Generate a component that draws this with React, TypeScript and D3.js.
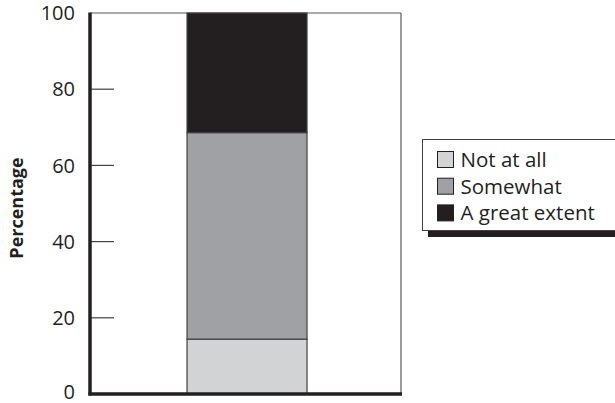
import React from "react";
import * as d3 from "d3";

const categories = ["All"];
const seriesNames = ["Not at all", "Somewhat", "A great extent"];
const notAtAll = [14.4];
const somewhat = [54.2];
const greatExtent = [31.4];
const yTicks = [0, 20, 40, 60, 80, 100];
const colors = ["#d1d3d4", "#a0a1a4", "#231f20"];

export default function App() {
  const W = 615, H = 403;
  const left = 90, right = 401, top = 13, bottom = 394;
  const y = d3.scaleLinear().domain([0, 100]).range([bottom, top]);
  const x = d3.scaleBand().domain(categories).range([left, right]).paddingInner(0).paddingOuter(0.796).align(0.508);
  const rows = categories.map((c, i) => ({ cat: c, "Not at all": notAtAll[i], "Somewhat": somewhat[i], "A great extent": greatExtent[i] }));
  const stack = d3.stack<any>().keys(seriesNames)(rows);
  const font = "'Open Sans', 'Noto Sans', sans-serif";
  return (
    <svg width={W} height={H} style={{ position: "absolute", left: 0, top: 0, background: "#fff" }}>
      {/* frame */}
      <line x1={left} x2={right} y1={top} y2={top} stroke="#58595b" strokeWidth={1.2} />
      <line x1={right} x2={right} y1={top} y2={bottom} stroke="#58595b" strokeWidth={1.2} />
      {/* bars */}
      {stack.map((s, si) =>
        s.map((d, di) => (
          <rect key={si + "-" + di} x={x(categories[di])!} width={x.bandwidth()} y={y(d[1])} height={y(d[0]) - y(d[1])}
            fill={colors[si]} stroke="#414042" strokeWidth={1.2} />
        ))
      )}
      {/* ticks */}
      {yTicks.filter(t => t > 0 && t < 100).map(t => (
        <line key={t} x1={left} x2={left + 24} y1={y(t)} y2={y(t)} stroke="#414042" strokeWidth={1.2} />
      ))}
      {yTicks.map(t => (
        <text key={"l" + t} x={75} y={Math.min(y(t), 392)} dy="0.36em" textAnchor="end" fontSize={20} fontFamily={font} fill="#231f20">{t}</text>
      ))}
      {/* axes */}
      <line x1={left} x2={left} y1={top - 0.5} y2={bottom + 1.5} stroke="#231f20" strokeWidth={3.5} />
      <line x1={left - 1.5} x2={right + 1} y1={bottom} y2={bottom} stroke="#231f20" strokeWidth={3.5} />
      <text transform={`translate(22.5,208) rotate(-90)`} textAnchor="middle" fontSize={18} fontWeight="bold" fontFamily={font} fill="#231f20">Percentage</text>
      {/* legend */}
      <rect x={428} y={146} width={200} height={91} fill="#231f20" />
      <rect x={422.5} y={139.5} width={200} height={91} fill="#fff" stroke="#414042" strokeWidth={1} />
      {seriesNames.map((n, i) => {
        const yc = 159.5 + i * 26.7;
        return (
          <g key={n}>
            <rect x={437.5} y={yc - 8} width={16} height={16} fill={colors[i]} stroke="#231f20" strokeWidth={1} />
            <text x={460.5} y={yc} dy="0.36em" fontSize={20.5} fontFamily={font} fill="#231f20">{n}</text>
          </g>
        );
      })}
    </svg>
  );
}
